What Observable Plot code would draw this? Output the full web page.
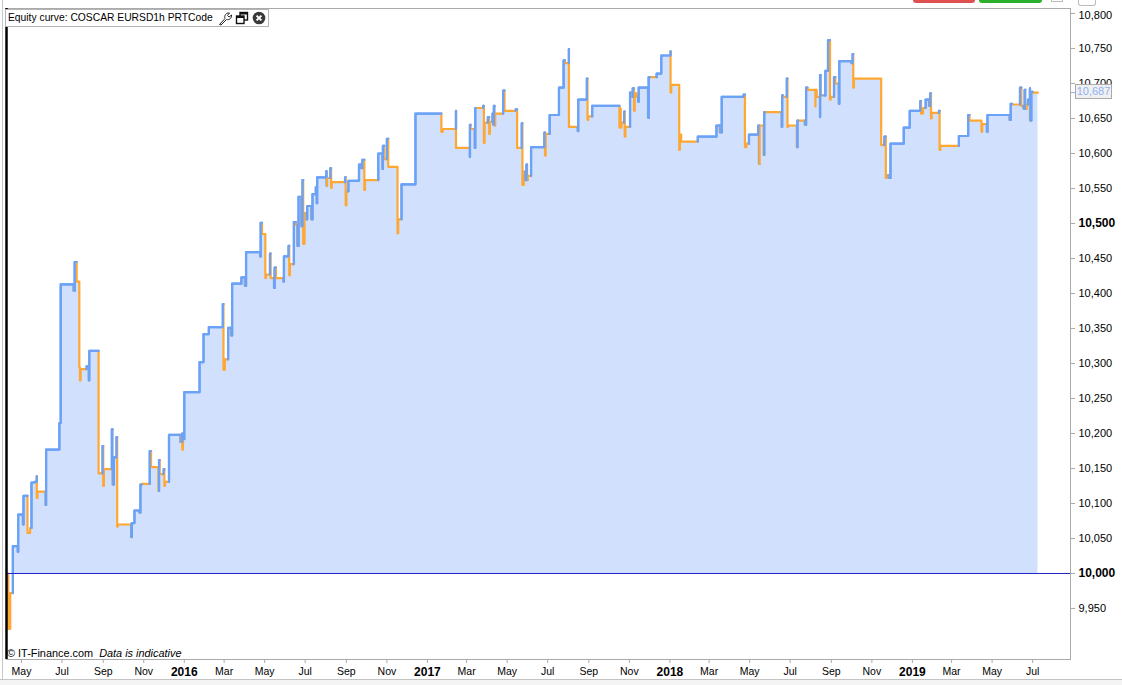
<!DOCTYPE html>
<html>
<head>
<meta charset="utf-8">
<script src="https://cdn.jsdelivr.net/npm/d3@7"></script>
<script src="https://cdn.jsdelivr.net/npm/@observablehq/plot@0.6"></script>
<style>
html,body{margin:0;padding:0;background:#fff;overflow:hidden}
#page{position:relative;width:1122px;height:685px;font-family:"Liberation Sans",Arial,sans-serif;color:#000}
#chart svg{display:block;position:absolute;left:0;top:0;background:transparent}
.abs{position:absolute}
#legend{left:5px;top:9px;width:262px;height:16px;background:#fff;border:1px solid #b4b4b4;font-size:10.3px;line-height:16px;white-space:nowrap}
#legend span{margin-left:2px}
#legend svg{position:absolute;top:1px}
#tag{left:1075px;top:84px;width:35px;height:13px;background:#f0f0f0;border:1px solid #aaa;color:#8fb0f5;font-size:11px;line-height:13px;text-align:center}
#copy{left:7px;top:647px;font-size:10.9px;line-height:13px;white-space:nowrap}
</style>
</head>
<body>
<div id="page">
<div id="chart"></div>
<div class="abs" style="left:2px;top:0;width:1px;height:680px;background:#c8c8c8"></div>
<div class="abs" style="left:913px;top:0;width:62px;height:3px;background:#e0504f;border-radius:0 0 4px 4px"></div>
<div class="abs" style="left:979px;top:0;width:63px;height:3px;background:#2bb02b;border-radius:0 0 4px 4px"></div>
<div class="abs" style="left:1051px;top:0;width:10px;height:1px;border:1px solid #bbb;border-top:0"></div>
<div class="abs" style="left:1078px;top:0;width:16px;height:5px;border:1px solid #bbb;border-top:0;border-radius:0 0 3px 3px"></div>
<div class="abs" style="left:0;top:679px;width:1122px;height:1px;background:#c4c4c4"></div>
<div class="abs" style="left:0;top:680px;width:1122px;height:5px;background:#f4f4f4"></div>
<div id="legend" class="abs"><span>Equity curve: COSCAR EURSD1h PRTCode</span>
<svg style="left:212px" width="15" height="15" viewBox="0 0 15 15"><path d="M1.5 13.5 L7 7.5 C6 4.5 8 1.5 11.5 2 L9.5 4.5 L11 6 L13.5 4 C14 7 11 9.5 8.5 8.5 L3 14 Z" fill="#fff" stroke="#222" stroke-width="1"/></svg>
<svg style="left:229px" width="14" height="14" viewBox="0 0 14 14"><rect x="5" y="1.5" width="7.5" height="7.5" fill="#fff" stroke="#111" stroke-width="1.4"/><rect x="1.5" y="5" width="7.5" height="7.5" fill="#fff" stroke="#111" stroke-width="1.4"/><path d="M1.5 6 H9 M5 2.5 H12.5" stroke="#111" stroke-width="2"/></svg>
<svg style="left:246px" width="14" height="14" viewBox="0 0 14 14"><circle cx="7" cy="7" r="6.3" fill="#3a3a3a"/><path d="M4.6 4.6 L9.4 9.4 M9.4 4.6 L4.6 9.4" stroke="#fff" stroke-width="2"/></svg>
</div>
<div id="tag" class="abs">10,687</div>
<div id="copy" class="abs">© IT-Finance.com &nbsp;<i>Data is indicative</i></div>
</div>
<script>
// Days since 1 May 2015 at which the equity changes (20 to a line, matching the two lists below)
const days = [
-21,-20,-17,-13,-6,-5,2,3,9,13,15,20,23,23,24,36,37,57,59,78,
80,83,87,88,89,98,101,102,116,122,123,124,136,137,139,143,144,145,165,166,
170,177,179,181,193,195,206,207,208,214,215,216,222,239,242,242,243,245,268,274,
282,303,304,306,311,315,317,331,336,338,359,360,362,367,368,374,375,380,381,383,
394,395,402,403,404,410,413,415,417,419,421,423,424,426,429,430,436,438,443,444,
445,459,459,460,465,466,467,487,488,489,492,508,510,513,516,517,537,543,544,546,
550,552,566,567,572,593,632,634,654,654,675,675,676,682,683,684,695,696,697,702,
704,705,709,710,711,712,713,725,727,744,746,753,754,756,758,760,761,762,767,787,
788,789,795,809,816,818,824,824,837,838,851,852,853,859,900,902,902,903,907,908,
909,916,917,920,922,923,926,928,929,943,944,946,956,963,977,977,978,990,991,993,
1018,1046,1051,1054,1087,1089,1091,1095,1109,1110,1111,1117,1118,1119,1144,1145,1146,1152,1153,1154,
1167,1168,1169,1179,1181,1183,1195,1195,1197,1202,1202,1203,1210,1214,1217,1218,1223,1225,1230,1231,
1249,1251,1252,1253,1294,1299,1301,1302,1305,1308,1328,1337,1353,1354,1357,1361,1366,1368,1369,1370,
1381,1382,1383,1411,1425,1427,1445,1446,1453,1454,1487,1489,1491,1503,1505,1508,1510,1511,1513,1515,
1518,1518,1520,1522,1530];
// Equity after each change
const equity = [
10000,9921,9972,10039,10031,10084,10070,10111,10058,10065,10130,10131,10139,10108,10117,10098,10177,10215,10413,10404,
10445,10417,10294,10276,10292,10296,10276,10318,10143,10182,10125,10149,10206,10127,10166,10195,10067,10070,10052,10072,
10090,10087,10127,10128,10175,10152,10118,10162,10142,10149,10125,10131,10198,10188,10200,10177,10192,10259,10302,10342,
10352,10385,10291,10306,10351,10340,10414,10423,10411,10459,10453,10501,10485,10422,10427,10457,10422,10408,10437,10422,
10417,10453,10468,10426,10442,10502,10498,10468,10538,10538,10496,10562,10471,10515,10506,10525,10506,10542,10552,10529,
10566,10575,10554,10565,10579,10551,10559,10566,10526,10546,10561,10584,10579,10591,10548,10562,10600,10578,10611,10592,
10621,10581,10486,10506,10556,10657,10631,10635,10661,10608,10595,10641,10635,10608,10665,10665,10668,10615,10644,10652,
10628,10645,10657,10641,10668,10640,10657,10690,10661,10663,10608,10643,10555,10574,10562,10584,10562,10568,10609,10630,
10597,10628,10655,10694,10733,10729,10749,10638,10632,10677,10707,10648,10653,10668,10637,10664,10637,10644,10660,10624,
10638,10687,10681,10693,10661,10686,10681,10674,10694,10651,10709,10709,10714,10740,10746,10687,10698,10605,10627,10617,
10624,10640,10630,10681,10684,10609,10614,10627,10640,10585,10640,10598,10659,10659,10638,10683,10681,10707,10638,10640,
10609,10647,10647,10641,10694,10691,10667,10691,10681,10652,10712,10683,10718,10762,10677,10681,10709,10700,10671,10732,
10729,10742,10694,10707,10612,10624,10565,10569,10565,10614,10637,10661,10675,10657,10665,10677,10668,10686,10650,10658,
10661,10605,10611,10625,10655,10647,10631,10642,10631,10655,10648,10671,10670,10694,10668,10664,10691,10664,10670,10677,
10693,10647,10688,10687,10687];
// Line colour of each change: b blue, o orange, g grey (one row per line of the lists above)
const toneRows = [
"ooobg bgboo bbboo gbbbg",
"boooo bgbob oobgb boogb",
"bgbob oobob oobgb oobbb",
"bboob gbbgb gbooo bogbo",
"gbboo bogbo gboog bgbbg",
"bbgob ooboo bbgbo obgbo",
"booob boobo gbogb oboob",
"oobgb gobob oboog bgobb",
"oobbb obogb boobo ooobo",
"obobo oogbg bobbb ooooo",
"bbgbb oobbg oobog boboo",
"obogb oooog bgbbo obogb",
"gbooo boogb bbboo bgboo",
"boobb ooogb gbobo gbgob",
"bgboo"];
const tones = toneRows.join("").replace(/ /g, "");

const colours = {b: "#6ba2f8", o: "#ffa733", g: "#8ea4c0"};
const leftDay = -22.6, rightDay = 1579;
const monthTicks = ["2015-05-01","2015-07-01","2015-09-01","2015-11-01","2016-03-01","2016-05-01","2016-07-01","2016-09-01","2016-11-01","2017-03-01","2017-05-01","2017-07-01","2017-09-01","2017-11-01","2018-03-01","2018-05-01","2018-07-01","2018-09-01","2018-11-01","2019-03-01","2019-05-01","2019-07-01"];
const yearTicks = ["2016-01-01","2017-01-01","2018-01-01","2019-01-01"];
const valueTicks = [9950,10050,10100,10150,10200,10250,10300,10350,10400,10450,10550,10600,10650,10700,10750];
const boldValueTicks = [10000,10500];
const topValue = 10800, lastValue = 10687;

const toDate = d => new Date(Date.UTC(2015, 4, 1) + d * 864e5);
const iso = s => new Date(s + "T00:00:00Z");
const fmt = d3.format(",");

// Each change becomes a vertical move at its day, then a level held until the next one
const path = [];
days.forEach((day, i) => {
  const date = toDate(day), tone = tones[i];
  if (i > 0) path.push({date, value: equity[i - 1], tone});
  path.push({date, value: equity[i], tone});
});

const lineStyle = {x: "date", y: "value", z: null, strokeWidth: 2.2, strokeLinejoin: "round", strokeLinecap: "round"};
const axisY = o => Plot.axisY({anchor: "right", label: null, tickSize: 4, tickPadding: 4, stroke: "#aaa", tickFormat: fmt, ...o});
const plot = Plot.plot({
  width: 1122, height: 685,
  marginLeft: 6, marginRight: 52, marginTop: 8, marginBottom: 26,
  style: {fontFamily: '"Liberation Sans", Arial, sans-serif', background: "transparent", color: "#000"},
  x: {type: "utc", domain: [toDate(leftDay), toDate(rightDay)], label: null},
  y: {domain: [9877.14, 10807.14], label: null},
  marks: [
    Plot.areaY(path, {x: "date", y1: () => 10000, y2: d => Math.max(d.value, 10000), fill: "#d0e0fd"}),
    Plot.line(path, {...lineStyle, stroke: d => colours[d.tone]}),
    Plot.line(path, {...lineStyle, stroke: d => d.tone === "b" ? colours.b : "none"}),
    Plot.ruleY([10000], {stroke: "#2222c8", strokeWidth: 1}),
    Plot.frame({stroke: "#aaa"}),
    Plot.ruleX([toDate(leftDay)], {stroke: "#000", strokeWidth: 2.5}),
    Plot.axisX({ticks: monthTicks.map(iso), tickFormat: d3.utcFormat("%b"), label: null, fontSize: 10.5, tickSize: 4, tickPadding: 4, stroke: "#aaa"}),
    Plot.axisX({ticks: yearTicks.map(iso), tickFormat: d3.utcFormat("%Y"), label: null, fontSize: 12, fontWeight: "bold", tickSize: 4, tickPadding: 4, stroke: "#aaa"}),
    axisY({ticks: valueTicks, fontSize: 11}),
    axisY({ticks: boldValueTicks, fontSize: 12, fontWeight: "bold"}),
    axisY({ticks: [topValue], tickFormat: () => ""}),
    axisY({ticks: [lastValue], tickFormat: () => "", stroke: "#8fb0f5"}),
    Plot.text([topValue], {y: d => d, text: fmt, frameAnchor: "right", textAnchor: "start", dx: 8, dy: 2, fontSize: 11})
  ]
});
document.getElementById("chart").appendChild(plot);
</script>
</body>
</html>
